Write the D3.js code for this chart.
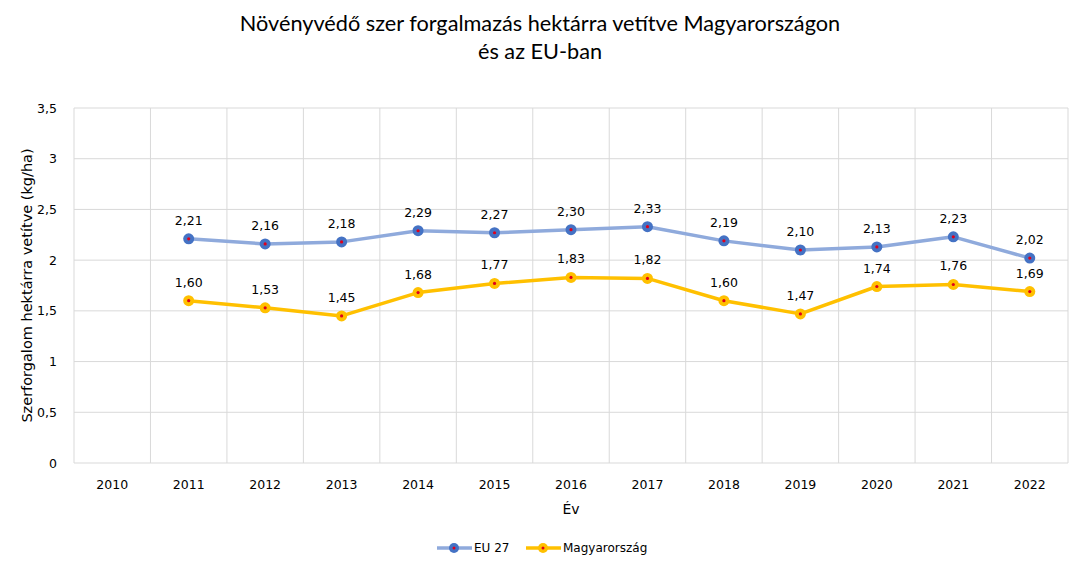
<!DOCTYPE html>
<html><head><meta charset="utf-8">
<script src="https://cdn.jsdelivr.net/npm/d3@7"></script>
<style>body{margin:0;background:#fff}</style>
</head><body>
<svg id="c" width="1073" height="567"></svg>
<script>
const years = ["2010","2011","2012","2013","2014","2015","2016","2017","2018","2019","2020","2021","2022"];
const eu27 = [null,2.21,2.16,2.18,2.29,2.27,2.30,2.33,2.19,2.10,2.13,2.23,2.02];
const hungary = [null,1.60,1.53,1.45,1.68,1.77,1.83,1.82,1.60,1.47,1.74,1.76,1.69];
const yTicks = [0,0.5,1,1.5,2,2.5,3,3.5];
const seriesNames = ["EU 27","Magyarország"];

const svg = d3.select("#c");
const L=74,R=1068,T=108,B=463;
const x = d3.scaleBand().domain(years).range([L,R]);
const y = d3.scaleLinear().domain([0,3.5]).range([B,T]);
const fmt = v => d3.format(".2f")(v).replace(".",",");
const fmtT = v => String(v).replace(".",",");
const lab = "'DejaVu Sans', Verdana, sans-serif";
const cal = "Lato, 'Open Sans', sans-serif";

// grid
const g = svg.append("g");
yTicks.forEach(t=>{
  g.append("line").attr("x1",L).attr("x2",R).attr("y1",y(t)).attr("y2",y(t)).attr("stroke","#d9d9d9").attr("stroke-width",1);
});
years.forEach(yr=>{ g.append("line").attr("x1",x(yr)).attr("x2",x(yr)).attr("y1",T).attr("y2",B).attr("stroke","#d9d9d9"); });
g.append("line").attr("x1",R).attr("x2",R).attr("y1",T).attr("y2",B).attr("stroke","#d9d9d9");

// y axis labels
const ya = svg.append("g").attr("transform",`translate(${L-14},0)`)
  .call(d3.axisLeft(y).tickValues(yTicks).tickFormat(fmtT).tickSize(0));
ya.select(".domain").remove();
ya.attr("font-family",lab);
ya.selectAll("text").attr("font-family",lab).attr("font-size",12.5).attr("fill","#000");

const xa = svg.append("g").attr("transform",`translate(0,${B+14})`)
  .call(d3.axisBottom(x).tickSize(0));
xa.select(".domain").remove();
xa.attr("font-family",lab);
xa.selectAll("text").attr("font-family",lab).attr("font-size",12.5).attr("fill","#000");

// titles
svg.append("text").attr("x",540).attr("y",31).attr("text-anchor","middle").attr("font-family",cal).attr("font-size",21.7).text("Növényvédő szer forgalmazás hektárra vetítve Magyarországon");
svg.append("text").attr("x",540).attr("y",59).attr("text-anchor","middle").attr("font-family",cal).attr("font-size",21.7).text("és az EU-ban");
svg.append("text").attr("x",571).attr("y",514).attr("text-anchor","middle").attr("font-family",lab).attr("font-size",14).text("Év");
svg.append("text").attr("transform",`translate(32,${(T+B)/2}) rotate(-90)`).attr("text-anchor","middle").attr("font-family",lab).attr("font-size",14.5).text("Szerforgalom hektárra vetítve (kg/ha)");

const series = [
  {name:seriesNames[0], data:eu27, line:"#8faadc", fill:"#4472c4"},
  {name:seriesNames[1], data:hungary, line:"#ffc000", fill:"#ffc000"}
];
const cx = yr => x(yr)+x.bandwidth()/2;
series.forEach(s=>{
  const pts = years.map((yr,i)=>({yr,v:s.data[i]})).filter(d=>d.v!=null);
  svg.append("path").datum(pts).attr("fill","none").attr("stroke",s.line).attr("stroke-width",3.5)
    .attr("stroke-linejoin","round").attr("d",d3.line().x(d=>cx(d.yr)).y(d=>y(d.v)));
  const m = svg.append("g");
  m.selectAll("circle.o").data(pts).join("circle").attr("cx",d=>cx(d.yr)).attr("cy",d=>y(d.v)).attr("r",5.5).attr("fill",s.fill);
  m.selectAll("circle.i").data(pts).join("circle").attr("cx",d=>cx(d.yr)).attr("cy",d=>y(d.v)).attr("r",1.6).attr("fill","#e0001b");
  svg.append("g").selectAll("text").data(pts).join("text").attr("x",d=>cx(d.yr)).attr("y",d=>y(d.v)-14)
    .attr("text-anchor","middle").attr("font-family",lab).attr("font-size",12.5).text(d=>fmt(d.v));
});

// legend
const lg = svg.append("g");
const items = [{s:series[0],x:437},{s:series[1],x:526}];
items.forEach(it=>{
  lg.append("line").attr("x1",it.x).attr("x2",it.x+35).attr("y1",548).attr("y2",548).attr("stroke",it.s.line).attr("stroke-width",3.5);
  lg.append("circle").attr("cx",it.x+17).attr("cy",548).attr("r",5).attr("fill",it.s.fill);
  lg.append("circle").attr("cx",it.x+17).attr("cy",548).attr("r",1.5).attr("fill","#e0001b");
  lg.append("text").attr("x",it.x+37).attr("y",552).attr("font-family",lab).attr("font-size",12).text(it.s.name);
});
</script>
</body></html>
